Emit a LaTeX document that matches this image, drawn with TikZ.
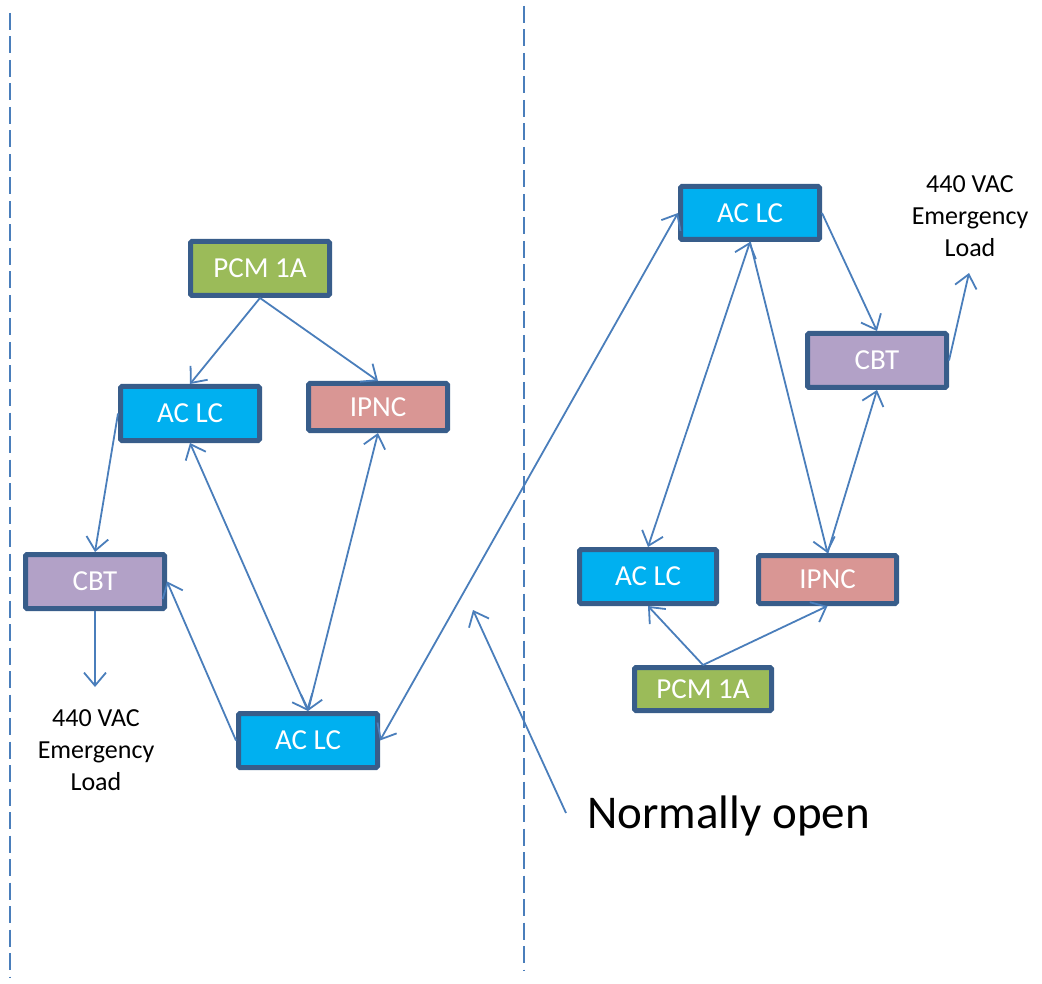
\documentclass[tikz,border=0pt]{standalone}
\usepackage{fontspec}
\setmainfont{Carlito}
\usetikzlibrary{arrows.meta,calc}
\definecolor{linkblue}{HTML}{4A7EBB}
\definecolor{edgeblue}{HTML}{385D8A}
\definecolor{aclcfill}{HTML}{00B0F0}
\definecolor{pcmfill}{HTML}{9BBB59}
\definecolor{ipncfill}{HTML}{D99694}
\definecolor{cbtfill}{HTML}{B2A1C7}
\begin{document}
\begin{tikzpicture}[x=1pt,y=-1pt,
  box/.style={draw=edgeblue, line width=5pt, rounded corners=1.5pt, text=white,
    font=\fontsize{29}{34}\selectfont, minimum width=139pt, minimum height=54pt, inner sep=0pt},
  aclc/.style={box, fill=aclcfill},
  pcm/.style={box, fill=pcmfill},
  ipnc/.style={box, fill=ipncfill},
  cbt/.style={box, fill=cbtfill},
  conn/.style={draw=linkblue, line width=1.8pt, -{Straight Barb[length=13pt,width=22pt]}},
  bothway/.style={conn, {Straight Barb[length=13pt,width=22pt]}-{Straight Barb[length=13pt,width=22pt]}},
  divider/.style={draw=linkblue, line width=2pt, dash pattern=on 17pt off 6.5pt},
  loadtext/.style={align=center, font=\fontsize{26}{32}\selectfont, inner sep=0pt}
]
\useasboundingbox (0,0) rectangle (1042,984);

% section dividers
\draw[divider] (9.5,13) -- (9.5,978);
\draw[divider] (524,6) -- (524,971);

% left group
\node[pcm]  (pl)  at (260,268.5) {PCM 1A};
\node[aclc, minimum height=54pt] (al1) at (190,413.5) {AC LC};
\node[ipnc, minimum height=47pt] (il)  at (378,407) {IPNC};
\node[cbt]  (cl)  at (95,581.5) {CBT};
\node[aclc] (ab)  at (308,740.5) {AC LC};
\node[loadtext] (load1txt) at (96,750) {440 VAC\\Emergency\\Load};
\coordinate (load1) at (95,687);

% right group
\node[aclc, minimum height=53pt] (ar)  at (750,213) {AC LC};
\node[cbt]  (cr)  at (877,360.5) {CBT};
\node[aclc, minimum width=137pt] (abr) at (648,576.5) {AC LC};
\node[ipnc, minimum width=138pt, minimum height=48pt] (irr) at (827.5,579.5) {IPNC};
\node[pcm, minimum width=137pt, minimum height=43pt] (pr) at (703,689) {PCM 1A};
\node[loadtext] (load2txt) at (970,216) {440 VAC\\Emergency\\Load};
\coordinate (load2) at (969,273);

% annotation
\node[anchor=base west, inner sep=0pt, font=\fontsize{47}{56}\selectfont] (no) at (587,828) {Normally open};
\coordinate (nostart) at (566,813);
\coordinate (notip) at (473,610);

% left connectors
\draw[conn] (pl.south) -- (al1.north);
\draw[conn] (pl.south) -- (il.north);
\draw[conn] (al1.west) -- (cl.north);
\draw[conn] (cl.south) -- (load1);
\draw[conn] (ab.west) -- (cl.east);
\draw[bothway] (al1.south) -- (ab.north);
\draw[bothway] (il.south) -- (ab.north);

% tie between groups
\draw[bothway] (ab.east) -- (ar.west);
\draw[conn] (nostart) -- (notip);

% right connectors
\draw[conn] (ar.east) -- (cr.north);
\draw[conn] (cr.east) -- (load2);
\draw[bothway] (ar.south) -- (abr.north);
\draw[conn] (ar.south) -- (irr.north);
\draw[conn] (irr.north) -- (cr.south);
\draw[conn] (pr.north) -- (abr.south);
\draw[conn] (pr.north) -- (irr.south);
\end{tikzpicture}
\end{document}
